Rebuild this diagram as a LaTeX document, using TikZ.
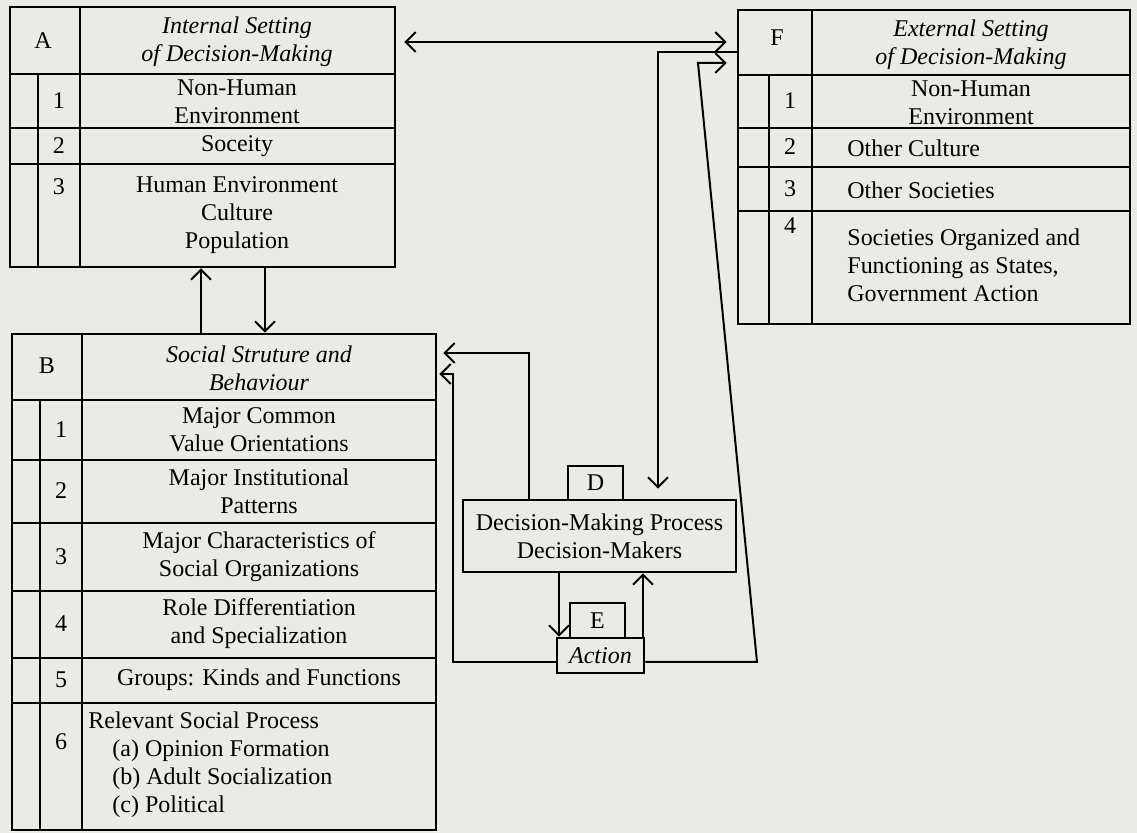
\documentclass[tikz,border=0pt]{standalone}
\usepackage{fontspec}
\setmainfont{Liberation Serif}
\usetikzlibrary{arrows.meta,fit}
\definecolor{paper}{RGB}{234,234,231}
\tikzset{
  box/.style={draw, line width=1.3pt, inner sep=0pt},
  rule/.style={line width=1.2pt},
  lbl/.style={inner sep=0pt, align=center, font=\fontsize{12}{14}\selectfont},
  ltxt/.style={lbl, align=left},
  head/.style={lbl, font=\fontsize{12}{14}\selectfont\itshape},
  link/.style={line width=1pt},
}
\begin{document}
\begin{tikzpicture}[x=0.5pt, y=-0.5pt, >={Straight Barb[length=5pt,width=10pt]}]
\fill[paper] (0,0) rectangle (1137,833);

\node[box, fit={(10,7) (395,267)}] (A) {};
\draw[rule] (80,7) -- (80,267) (38,74) -- (38,267);
\foreach \y in {74,128,164} \draw[rule] (10,\y) -- (395,\y);
\node[lbl] (nA) at (43,41) {A};
\node[head] (Atitle) at (237,42) {Internal Setting\\of Decision-Making};
\node[lbl] (nA1) at (59,101) {1};
\node[lbl] (A1) at (237,102) {Non-Human\\Environment};
\node[lbl] (nA2) at (59,146) {2};
\node[lbl] (A2) at (237,146) {Soceity};
\node[lbl] (nA3) at (59,187) {3};
\node[lbl] (A3) at (237,215) {Human Environment\\Culture\\Population};

\node[box, fit={(12,334) (436,830)}] (B) {};
\draw[rule] (82,334) -- (82,830) (40,400) -- (40,830);
\foreach \y in {400,460,523,591,658,703} \draw[rule] (12,\y) -- (436,\y);
\node[lbl] (nB) at (47,366) {B};
\node[head] (Btitle) at (259,368) {Social Struture and\\Behaviour};
\node[lbl] (nB1) at (61,430) {1};
\node[lbl] (B1) at (259,430) {Major Common\\Value Orientations};
\node[lbl] (nB2) at (61,491) {2};
\node[lbl] (B2) at (259,491) {Major Institutional\\Patterns};
\node[lbl] (nB3) at (61,557) {3};
\node[lbl] (B3) at (259,557) {Major Characteristics of\\Social Organizations};
\node[lbl] (nB4) at (61,624) {4};
\node[lbl] (B4) at (259,624) {Role Differentiation\\and Specialization};
\node[lbl] (nB5) at (61,680) {5};
\node[lbl] (B5) at (259,680) {Groups: Kinds and Functions};
\node[lbl] (nB6) at (61,742) {6};
\node[ltxt, anchor=west] (B6) at (88,765) {Relevant Social Process\\
  \hspace*{12pt}(a) Opinion Formation\\
  \hspace*{12pt}(b) Adult Socialization\\
  \hspace*{12pt}(c) Political};

\node[box, fit={(738,10) (1130,324)}] (F) {};
\draw[rule] (812,10) -- (812,324) (769,75) -- (769,324);
\foreach \y in {75,128,167,211} \draw[rule] (738,\y) -- (1130,\y);
\node[lbl] (nF) at (777,38) {F};
\node[head] (Ftitle) at (971,45) {External Setting\\of Decision-Making};
\node[lbl] (nF1) at (790,101) {1};
\node[lbl] (F1) at (971,103) {Non-Human\\Environment};
\node[lbl] (nF2) at (790,147) {2};
\node[lbl, anchor=west] (F2) at (847,148) {Other Culture};
\node[lbl] (nF3) at (790,189) {3};
\node[lbl, anchor=west] (F3) at (847,190) {Other Societies};
\node[lbl] (nF4) at (790,226) {4};
\node[ltxt, anchor=west] (F4) at (847,265) {Societies Organized and\\Functioning as States,\\Government Action};

\node[box, lbl, minimum width=136.5pt, minimum height=36pt] (DM) at (599.5,536) {Decision-Making Process\\Decision-Makers};
\node[box, lbl, minimum width=27.5pt, minimum height=17pt] (D) at (595.5,483) {D};
\node[box, head, minimum width=43.5pt, minimum height=17.5pt] (Act) at (600.5,655.5) {Action};
\node[box, lbl, minimum width=27.5pt, minimum height=17.5pt] (E) at (597.5,620.5) {E};

\coordinate (upAB) at (201,300);
\coordinate (dnAB) at (265,300);
\coordinate (k1) at (529,353);
\coordinate (k2) at (453,374);
\coordinate (k3) at (658,52);
\coordinate (k4) at (698,63);
\coordinate (k5) at (757,662);
\coordinate (aL) at (559,600);
\coordinate (aR) at (643,600);

\draw[link, <->, shorten <=4pt, shorten >=5pt] (A.east |- Atitle) -- (F.west |- Atitle);
\draw[link, ->] (B.north -| upAB) -- (A.south -| upAB);
\draw[link, ->] (A.south -| dnAB) -- (B.north -| dnAB);
\draw[link, ->, shorten >=3pt] (DM.north -| k1) |- (B.east |- k1);
\draw[link, ->, shorten >=1pt] (Act.west |- k5) -| (k2) -- (B.east |- k2);
\draw[link, ->, shorten >=5pt] (F.west |- k3) -| (DM.north -| k3);
\draw[link, ->, shorten >=5pt] (Act.east |- k5) -- (k5) -- (k4) -- (F.west |- k4);
\draw[link, ->] (DM.south -| aL) -- (Act.north -| aL);
\draw[link, ->] (Act.north -| aR) -- (DM.south -| aR);
\end{tikzpicture}
\end{document}
